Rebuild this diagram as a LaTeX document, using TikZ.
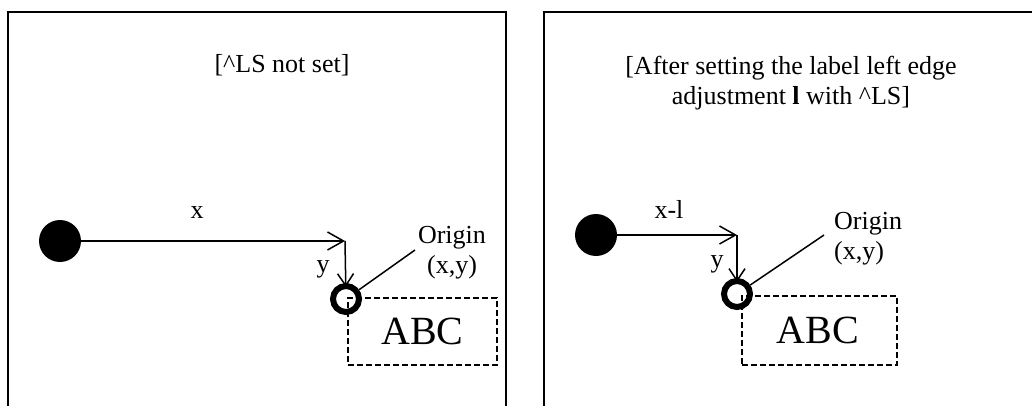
\documentclass[tikz,border=0pt]{standalone}
\usepackage{fontspec}
\setmainfont{Liberation Serif}
\usetikzlibrary{arrows.meta}
\tikzset{
  lbl/.style={inner sep=0pt, font=\fontsize{26}{30}\selectfont},
  big/.style={inner sep=0pt, font=\fontsize{40}{44}\selectfont},
  frame/.style={line width=1.6pt},
  dot/.style={circle, fill=black, minimum size=42pt, inner sep=0pt},
  ring/.style={circle, draw=black, line width=6pt, minimum size=26pt, inner sep=0pt},
  dashbox/.style={draw, dash pattern=on 6pt off 3pt, line width=1.2pt, inner sep=0pt},
  conn/.style={line width=1.5pt},
  harrow/.style={conn, -{Straight Barb[length=16pt,width=18pt,line width=1.5pt]}},
  varrow/.style={conn, -{Straight Barb[length=12pt,width=16pt,line width=1.5pt]}},
}
\begin{document}
\begin{tikzpicture}[x=1pt,y=-1pt]
\useasboundingbox (0,0) rectangle (1032,406);
% frames
\draw[frame] (8,406) -- (8,12) -- (506,12) -- (506,406);
\draw[frame] (544,406) -- (544,12) -- (1032,12);

% ---------- left panel ----------
\node[lbl, anchor=base] (titleL) at (282,73) {[\textasciicircum LS not set]};
\node[dot] (dotL) at (60,241) {};
\coordinate (cornerL) at (345,241);
\node[ring] (ringL) at (346,299) {};
\node[dashbox, minimum width=149pt, minimum height=67pt] (abcL) at (422.5,331.5) {};
\node[big] (abcLt) at (422.5,331.5) {ABC};
\node[lbl, align=center] (origL) at (452,253) {Origin\\(x,y)};
\coordinate (oL) at (415,250);
\draw[harrow] (dotL) -- (cornerL);
\draw[varrow, shorten >=-4pt] (cornerL) -- (ringL);
\draw[conn] (ringL) -- (oL);
\node[lbl, anchor=base] (xL) at (197,218) {x};
\node[lbl, anchor=base] (yL) at (323,272) {y};

% ---------- right panel ----------
\node[lbl, align=center] (titleR) at (791,83.5) {[After setting the label left edge\\adjustment \textbf{l} with \textasciicircum LS]};
\node[dot] (dotR) at (596,235) {};
\coordinate (cornerR) at (737,235);
\node[ring] (ringR) at (737,294) {};
\node[dashbox, minimum width=155pt, minimum height=69pt] (abcR) at (819.5,330.5) {};
\node[big] (abcRt) at (818,330.5) {ABC};
\node[lbl, align=left, anchor=west] (origR) at (834,238.5) {Origin\\(x,y)};
\coordinate (oR) at (824,235);
\draw[harrow] (dotR) -- (cornerR);
\draw[varrow, shorten >=-4pt] (cornerR) -- (ringR);
\draw[conn] (ringR) -- (oR);
\node[lbl, anchor=base] (xR) at (669,218) {x-l};
\node[lbl, anchor=base] (yR) at (717,267) {y};
\end{tikzpicture}
\end{document}
